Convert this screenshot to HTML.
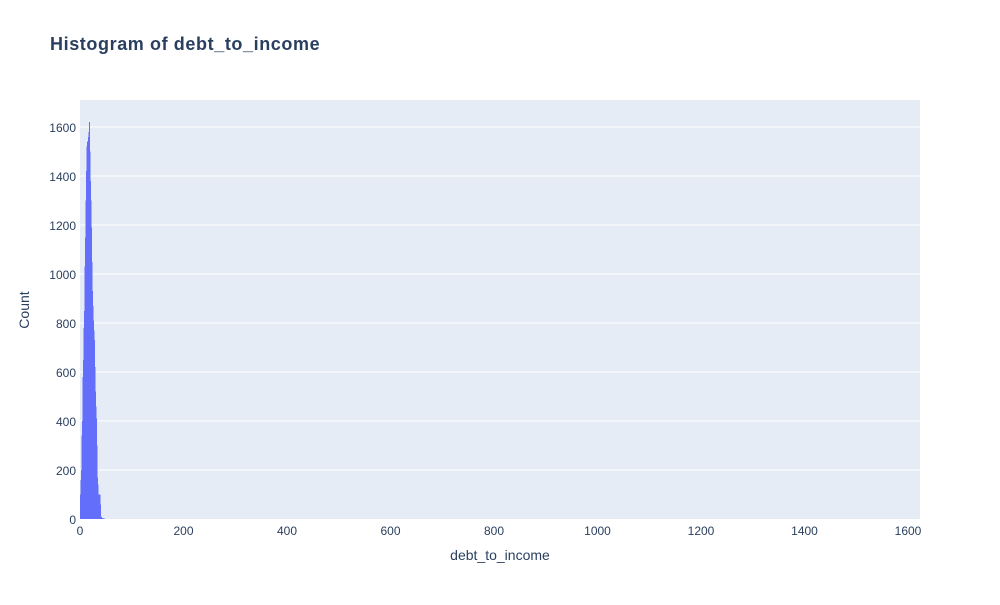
<!DOCTYPE html>
<html><head><meta charset="utf-8"><style>
body{margin:0;background:#fff;font-family:"Liberation Sans",sans-serif}
</style></head><body>
<svg width="1000" height="600" xmlns="http://www.w3.org/2000/svg" font-family="Liberation Sans, sans-serif">
<text x="50" y="50" font-size="18" font-weight="bold" fill="#2a3f5f" letter-spacing="0.6">Histogram of debt_to_income</text>
<rect x="80" y="100" width="840" height="419" fill="#e5ecf6"/>
<g id="grid"></g><g id="bars" shape-rendering="crispEdges"></g><g id="ticks"></g>
<text x="500" y="560" font-size="14" fill="#2a3f5f" text-anchor="middle">debt_to_income</text>
<text x="29" y="310" font-size="14" fill="#2a3f5f" text-anchor="middle" transform="rotate(-90 29 310)">Count</text>
</svg>
<script>
const binStart = 0;
const binWidth = 1;
const counts = [100,160,200,340,400,580,650,780,850,1030,1150,1300,1420,1520,1540,1560,1580,1620,1500,1380,1300,1190,1050,930,870,810,770,730,620,520,460,410,300,170,140,100,100,100,100,60,10,8,5,4,3,2,2];
const xTicks = [0,200,400,600,800,1000,1200,1400,1600];
const yTicks = [0,200,400,600,800,1000,1200,1400,1600];
const NS="http://www.w3.org/2000/svg";
const x = v => 80 + v*(908-80)/1600;
const y = v => 519 - v*(519-127)/1600;
function mk(tag, attrs, parent){const e=document.createElementNS(NS,tag);for(const k in attrs)e.setAttribute(k,attrs[k]);document.getElementById(parent).appendChild(e);return e;}
yTicks.forEach(t=>{
  if(t>0){const g=mk('line',{x1:80,x2:920,y1:y(t),y2:y(t),stroke:'#fff','stroke-width':1},'grid');
  
  }
  const l=mk('text',{x:76,y:y(t)+5,'font-size':12,fill:'#2a3f5f','text-anchor':'end'},'ticks');l.textContent=t;
  
  
});
xTicks.forEach(t=>{
  const l=mk('text',{x:x(t),y:535,'font-size':12,fill:'#2a3f5f','text-anchor':'middle'},'ticks');l.textContent=t;
  
  
});
counts.forEach((c,i)=>{
  const x0=x(binStart+i*binWidth), x1=x(binStart+(i+1)*binWidth);
  const b=mk('rect',{x:x0,y:y(c),width:Math.max(x1-x0,1),height:519-y(c),fill:'#636efa'},'bars');
  
  
});
</script>
</body></html>
